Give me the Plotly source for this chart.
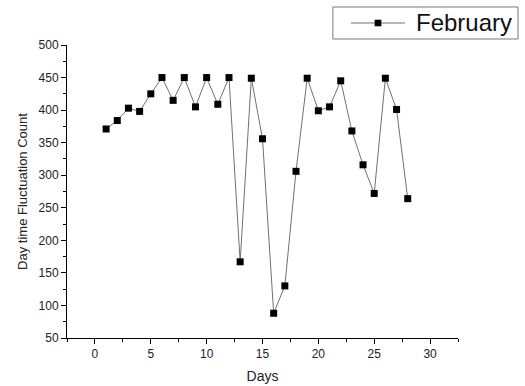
import plotly.graph_objects as go

# Daily fluctuation counts for February
days = list(range(1, 29))
counts = [371, 384, 403, 398, 425, 450, 415, 450, 405, 450,
          409, 450, 167, 449, 356, 88, 130, 306, 449, 399,
          405, 445, 368, 316, 272, 449, 401, 264]
series_name = "February"

x_ticks = [0, 5, 10, 15, 20, 25, 30]
y_ticks = [50, 100, 150, 200, 250, 300, 350, 400, 450, 500]

font_family = "Liberation Sans, Arial, sans-serif"
line_color = "#707070"

fig = go.Figure()
fig.add_trace(go.Scatter(
    x=days, y=counts, name=series_name,
    mode="lines+markers",
    line=dict(color=line_color, width=1),
    marker=dict(symbol="square", size=7, color="black",
                line=dict(width=0)),
    showlegend=False,
))

axis_common = dict(
    showline=True, linecolor="black", linewidth=1,
    ticks="outside", ticklen=5, tickwidth=1, tickcolor="black",
    showgrid=False, zeroline=False, mirror=False, automargin=False,
    tickfont=dict(family=font_family, size=12, color="#222"),
)

fig.update_xaxes(
    range=[-2.5, 32.5], tickvals=x_ticks,
    minor=dict(dtick=2.5, tick0=0, ticks="outside", ticklen=3,
               tickcolor="black", showgrid=False),
    title=dict(text="Days", font=dict(family=font_family, size=14, color="#222"),
               standoff=10),
    **axis_common,
)
fig.update_yaxes(
    range=[50, 500], tickvals=y_ticks,
    minor=dict(dtick=25, tick0=0, ticks="outside", ticklen=3,
               tickcolor="black", showgrid=False),
    title=dict(text="Day time Fluctuation Count",
               font=dict(family=font_family, size=13, color="#222"),
               standoff=8),
    **axis_common,
)

# Legend box drawn in paper coordinates (line sample, marker, label)
box = dict(x0=0.680, x1=1.1535, y0=1.0205, y1=1.1297)
key_y = 1.0751
key_x0, key_x1, key_mx = 0.7263, 0.8645, 0.7954
mdx, mdy = 0.0085, 0.0112

fig.add_shape(type="rect", xref="paper", yref="paper",
              x0=box["x0"], x1=box["x1"], y0=box["y0"], y1=box["y1"],
              line=dict(color="#777", width=1), fillcolor="white")
fig.add_shape(type="line", xref="paper", yref="paper",
              x0=key_x0, x1=key_x1, y0=key_y, y1=key_y,
              line=dict(color=line_color, width=1))
fig.add_shape(type="rect", xref="paper", yref="paper",
              x0=key_mx - mdx, x1=key_mx + mdx,
              y0=key_y - mdy, y1=key_y + mdy,
              line=dict(width=0), fillcolor="black")
fig.add_annotation(xref="paper", yref="paper", x=0.8875, y=key_y,
                   xanchor="left", yanchor="middle", showarrow=False,
                   text=series_name,
                   font=dict(family=font_family, size=24, color="#111"))

fig.update_layout(
    width=525, height=386,
    margin=dict(l=67, r=67, t=45, b=48),
    plot_bgcolor="white", paper_bgcolor="white",
    showlegend=False,
)

fig.write_html("out.html")
